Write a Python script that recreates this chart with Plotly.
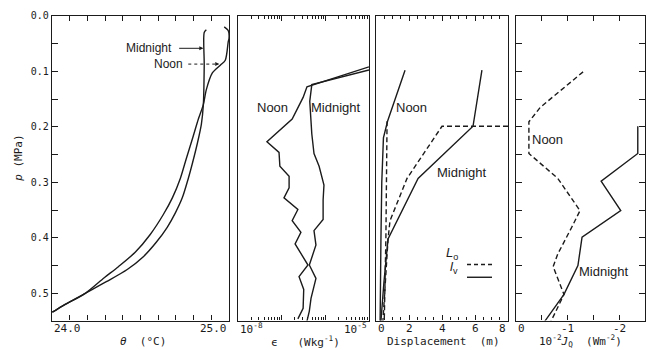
import plotly.graph_objects as go

# ---------------- Panel 1: potential temperature theta (deg C) vs pressure p (MPa)
p_theta_mid = [0.025, 0.030, 0.089, 0.160, 0.195, 0.230, 0.266, 0.293, 0.328, 0.355, 0.381,
               0.408, 0.434, 0.457, 0.479, 0.500, 0.523, 0.534]
theta_mid = [24.872, 24.860, 24.860, 24.855, 24.844, 24.821, 24.793, 24.770, 24.736, 24.697, 24.651,
             24.589, 24.516, 24.425, 24.307, 24.188, 24.058, 24.002]
p_theta_noon = [0.020, 0.027, 0.041, 0.046, 0.080, 0.089, 0.103, 0.133, 0.160, 0.186, 0.222,
                0.257, 0.293, 0.328, 0.358, 0.394, 0.426, 0.452, 0.472, 0.500, 0.523, 0.534]
theta_noon = [24.973, 24.996, 25.000, 24.996, 24.979, 24.951, 24.906, 24.872, 24.855, 24.827, 24.793,
              24.759, 24.725, 24.680, 24.629, 24.555, 24.470, 24.375, 24.295, 24.188, 24.058, 24.002]

# ---------------- Panel 2: dissipation epsilon (W/kg)
p_eps_noon = [0.092, 0.128, 0.147, 0.186, 0.227, 0.246, 0.271, 0.289, 0.310, 0.328, 0.349,
              0.369, 0.390, 0.411, 0.449, 0.470, 0.493, 0.527, 0.546]
eps_noon = [1.0e-5, 3.8e-7, 3.1e-7, 1.74e-7, 4.6e-8, 8.7e-8, 9.1e-8, 1.48e-7, 1.48e-7, 1.13e-7, 2.35e-7,
            1.74e-7, 2.76e-7, 2.03e-7, 4.0e-7, 2.5e-7, 3.2e-7, 3.1e-7, 2.35e-7]
p_eps_mid = [0.0975, 0.124, 0.154, 0.213, 0.248, 0.271, 0.305, 0.332, 0.367, 0.387, 0.413,
             0.449, 0.473, 0.509, 0.532, 0.550]
eps_mid = [1.0e-5, 4.9e-7, 4.4e-7, 4.9e-7, 5.5e-7, 7.2e-7, 9.3e-7, 8.9e-7, 8.9e-7, 5.5e-7, 6.1e-7,
           4.3e-7, 6.1e-7, 4.7e-7, 4.3e-7, 3.8e-7]

# ---------------- Panel 3: displacement (m), Lo dashed, lv solid
p_lv_noon = [0.098, 0.190, 0.220, 0.300, 0.400, 0.550]
lv_noon = [1.76, 0.70, 0.45, 0.35, 0.30, 0.25]
p_Lo_noon = [0.190, 0.300, 0.400, 0.550]
Lo_noon = [0.67, 0.65, 0.60, 0.50]
p_lv_mid = [0.098, 0.199, 0.293, 0.402, 0.480, 0.550]
lv_mid = [6.42, 5.88, 2.55, 0.73, 0.48, 0.30]
p_Lo_mid = [0.199, 0.199, 0.293, 0.369, 0.402, 0.550]
Lo_mid = [8.00, 4.00, 1.88, 0.85, 0.73, 0.42]

# ---------------- Panel 4: 10^-2 J_Q (W m^-2)
p_jq_noon = [0.101, 0.138, 0.165, 0.191, 0.248, 0.293, 0.351, 0.381, 0.429, 0.452, 0.502, 0.550]
jq_noon = [-1.30, -0.81, -0.47, -0.25, -0.25, -0.81, -1.24, -1.08, -0.81, -0.72, -0.93, -0.68]
p_jq_mid = [0.199, 0.248, 0.298, 0.351, 0.399, 0.450, 0.502, 0.550]
jq_mid = [-2.36, -2.36, -1.65, -2.03, -1.28, -1.20, -0.93, -0.56]

# ---------------- tick labels
p_tickvals = [0.0, 0.1, 0.2, 0.3, 0.4, 0.5]
p_ticktext = ["0.0", "0.1", "0.2", "0.3", "0.4", "0.5"]
theta_ticks = [(24.0, "24.0", "left"), (25.0, "25.0", "right")]
eps_ticks = [(-8, "10<sup>-8</sup>", "left"), (-5, "10<sup>-5</sup>", "right")]
disp_ticks = [(0, "0", "left"), (2, "2", "center"), (4, "4", "center"), (6, "6", "center"), (8, "8", "right")]
jq_ticks = [(0, "0", "left"), (-1, "-1", "center"), (-2, "-2", "center")]

INK = "#1b1b1b"
MONO = "DejaVu Sans Mono"
SANS = "Liberation Sans"
LW = 1.4
DASH = "5px,3px"

fig = go.Figure()

def line(x, y, xa, ya, dash="solid", shape="linear"):
    fig.add_trace(go.Scatter(x=x, y=y, xaxis=xa, yaxis=ya, mode="lines",
                             line=dict(color=INK, width=LW, dash=dash, shape=shape,
                                       smoothing=0.8 if shape == "spline" else None),
                             showlegend=False, hoverinfo="skip"))

line(theta_mid, p_theta_mid, "x", "y", shape="spline")
line(theta_noon, p_theta_noon, "x", "y", shape="spline")
line(eps_noon, p_eps_noon, "x2", "y2")
line(eps_mid, p_eps_mid, "x2", "y2")
line(lv_noon, p_lv_noon, "x3", "y3")
line(Lo_noon, p_Lo_noon, "x3", "y3", DASH)
line(lv_mid, p_lv_mid, "x3", "y3")
line(Lo_mid, p_Lo_mid, "x3", "y3", DASH)
line(jq_noon, p_jq_noon, "x4", "y4", DASH)
line(jq_mid, p_jq_mid, "x4", "y4")

YDOM = [1 - 320 / 350, 1 - 10 / 350]
PRANGE = [0.549, 0.0]
frame = dict(showline=True, linecolor=INK, linewidth=1.4, mirror=True, showgrid=False,
             zeroline=False, tickcolor=INK, tickwidth=1)

p_all_ticks = [round(0.05 * k, 2) for k in range(11)]
p_all_text = [p_ticktext[p_tickvals.index(v)] if v in p_tickvals else "" for v in p_all_ticks]

minor_eps = [m * 10.0 ** d for d in (-8, -7, -6) for m in range(2, 10)]

fig.update_layout(
    width=652, height=350, margin=dict(l=0, r=0, t=0, b=0),
    paper_bgcolor="white", plot_bgcolor="white",
    font=dict(family=MONO, size=11, color=INK),
    xaxis=dict(domain=[52 / 652, 229 / 652], range=[24.0, 25.0], anchor="y",
               tickvals=[round(24.0 + 0.1 * k, 1) for k in range(11)], ticks="inside", ticklen=5,
               showticklabels=False, **{**frame, "mirror": "ticks"}),
    yaxis=dict(domain=YDOM, range=PRANGE, anchor="x", tickvals=p_all_ticks, ticktext=p_all_text,
               ticks="inside", ticklen=6, tickfont=dict(family=MONO, size=10, color=INK),
               **frame),
    xaxis2=dict(domain=[238 / 652, 369 / 652], type="log", range=[-8, -5], anchor="y2",
                tickvals=[1e-8, 1e-7, 1e-6, 1e-5], ticks="inside", ticklen=5,
                minor=dict(tickvals=minor_eps, ticks="inside", ticklen=3, tickcolor=INK),
                showticklabels=False, **{**frame, "mirror": "ticks"}),
    yaxis2=dict(domain=YDOM, range=PRANGE, anchor="x2", showticklabels=False, ticks="", **frame),
    xaxis3=dict(domain=[376 / 652, 508 / 652], range=[0, 8], anchor="y3",
                tickvals=[0, 2, 4, 6, 8], ticks="inside", ticklen=5,
                minor=dict(dtick=0.5, ticks="inside", ticklen=3, tickcolor=INK),
                showticklabels=False, **{**frame, "mirror": "ticks"}),
    yaxis3=dict(domain=YDOM, range=PRANGE, anchor="x3", showticklabels=False, ticks="", **frame),
    xaxis4=dict(domain=[516 / 652, 645 / 652], range=[0, -2.5], anchor="y4",
                tickvals=[0, -0.5, -1, -1.5, -2, -2.5], ticks="inside", ticklen=5,
                showticklabels=False, **{**frame, "mirror": "ticks"}),
    yaxis4=dict(domain=YDOM, range=PRANGE, anchor="x4", tickvals=p_all_ticks, ticks="inside",
                ticklen=6, showticklabels=False, side="right", **{**frame, "mirror": "ticks"}),
)

ann = []
TICK_Y = 1 - 328 / 350
TITLE_Y = 1 - 341 / 350

def tick_labels(ticks, xref):
    for v, t, anchor in ticks:
        ann.append(dict(x=v, xref=xref, y=TICK_Y, yref="paper", text=t, showarrow=False,
                        xanchor=anchor, yanchor="middle", font=dict(family=MONO, size=11, color=INK)))

tick_labels(theta_ticks, "x")
tick_labels(eps_ticks, "x2")
tick_labels(disp_ticks, "x3")
tick_labels(jq_ticks, "x4")

titles = [(143, "<i>θ</i>  (°C)"), (305, "ϵ   (Wkg<sup>-1</sup>)"),
          (443, "Displacement  (m)"), (580, "10<sup>-2</sup><i>J</i><sub>Q</sub>  (Wm<sup>-2</sup>)")]
for xp, t in titles:
    ann.append(dict(x=xp / 652, xref="paper", y=TITLE_Y, yref="paper", text=t, showarrow=False,
                    xanchor="center", yanchor="middle", font=dict(family=MONO, size=11, color=INK)))

ann.append(dict(x=10 / 652, xref="paper", y=1 - 155 / 350, yref="paper", text="<i>p</i> (MPa)",
                textangle=-90, showarrow=False, font=dict(family=MONO, size=11, color=INK)))

def label(text, x, y, xref, yref, anchor="center", size=13):
    ann.append(dict(x=x, y=y, xref=xref, yref=yref, text=text, showarrow=False, xanchor=anchor,
                    yanchor="middle", font=dict(family=SANS, size=size, color=INK)))

label("Midnight", 24.69, 0.0585, "x", "y", "right", 12)
label("Noon", 24.754, 0.087, "x", "y", "right", 12)
label("Noon", -7.2, 0.165, "x2", "y2")
label("Midnight", -5.76, 0.165, "x2", "y2")
label("Noon", 2.18, 0.165, "x3", "y3")
label("Midnight", 5.2, 0.283, "x3", "y3")
label("Noon", -0.62, 0.222, "x4", "y4")
label("Midnight", -1.71, 0.461, "x4", "y4")

# arrows in panel 1
ann.append(dict(x=24.855, y=0.0585, ax=24.71, ay=0.0585, xref="x", yref="y", axref="x", ayref="y",
                text="", showarrow=True, arrowhead=2, arrowsize=0.8, arrowwidth=1, arrowcolor=INK))
fig.add_shape(type="line", x0=24.77, x1=24.925, y0=0.087, y1=0.087, xref="x", yref="y",
              line=dict(color=INK, width=1, dash="3px,3px"))
ann.append(dict(x=24.945, y=0.087, ax=24.925, ay=0.087, xref="x", yref="y", axref="x", ayref="y",
                text="", showarrow=True, arrowhead=2, arrowsize=0.8, arrowwidth=1, arrowcolor=INK))

# legend in panel 3
ann.append(dict(x=460 / 652, y=1 - 263 / 350, xref="paper", yref="paper", text="<i>L</i><sub>o</sub>",
                showarrow=False, xanchor="right", font=dict(family=SANS, size=13, color=INK)))
ann.append(dict(x=460 / 652, y=1 - 277 / 350, xref="paper", yref="paper", text="<i>l</i><sub>v</sub>",
                showarrow=False, xanchor="right", font=dict(family=SANS, size=13, color=INK)))
fig.add_shape(type="line", x0=467 / 652, x1=492 / 652, y0=1 - 263 / 350, y1=1 - 263 / 350,
              xref="paper", yref="paper", line=dict(color=INK, width=LW, dash="4px,3px"))
fig.add_shape(type="line", x0=467 / 652, x1=492 / 652, y0=1 - 276 / 350, y1=1 - 276 / 350,
              xref="paper", yref="paper", line=dict(color=INK, width=LW))

fig.update_layout(annotations=ann)
fig.write_html("out.html")
